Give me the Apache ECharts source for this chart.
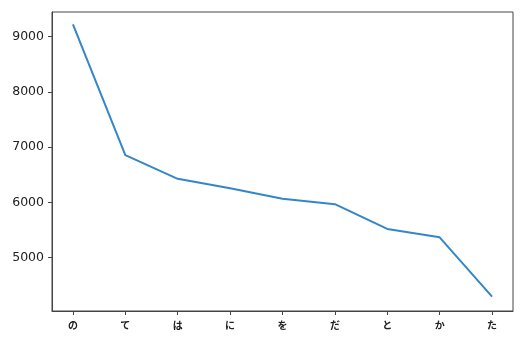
<!DOCTYPE html>
<html>
<head>
<meta charset="utf-8">
<script src="https://cdn.jsdelivr.net/npm/echarts@6/dist/echarts.min.js"></script>
<style>
html,body{margin:0;padding:0;background:#fff;}
#chart{width:529px;height:349px;}
</style>
</head>
<body>
<div id="chart"></div>
<script>
var categories = ['の', 'て', 'は', 'に', 'を', 'だ', 'と', 'か', 'た'];
var counts = [9224, 6855, 6428, 6255, 6067, 5969, 5520, 5369, 4294];
var yTicks = [5000, 6000, 7000, 8000, 9000];

var xIdx = categories.map(function (c, i) { return i; });
var seriesData = counts.map(function (v, i) { return [i, v]; });

var chart = echarts.init(document.getElementById('chart'), null, {renderer: 'canvas'});
chart.setOption({
  animation: false,
  backgroundColor: '#ffffff',
  grid: {
    left: 52, right: 16, top: 12, bottom: 38,
    show: true, borderColor: '#444', borderWidth: 1, backgroundColor: 'transparent'
  },
  xAxis: {
    type: 'value',
    min: -0.4, max: categories.length - 1 + 0.4,
    splitLine: {show: false},
    axisLine: {show: true, onZero: false, lineStyle: {color: '#444', width: 1}},
    axisTick: {show: true, length: 4, lineStyle: {color: '#444'}, customValues: xIdx},
    axisLabel: {
      customValues: xIdx,
      margin: 9,
      fontFamily: 'Noto Sans CJK JP',
      fontSize: 10,
      fontWeight: 'bold',
      color: '#222',
      formatter: function (v) { return categories[Math.round(v)]; }
    }
  },
  yAxis: {
    type: 'value',
    min: 4035, max: 9447,
    splitLine: {show: false},
    axisLine: {show: true, onZero: false, lineStyle: {color: '#444', width: 1}},
    axisTick: {show: true, length: 4, lineStyle: {color: '#444'}, customValues: yTicks},
    axisLabel: {
      customValues: yTicks,
      margin: 8,
      fontFamily: 'DejaVu Sans',
      fontSize: 12.5,
      color: '#222',
      formatter: function (v) { return String(Math.round(v)); }
    }
  },
  series: [{
    type: 'line',
    data: seriesData,
    showSymbol: false,
    symbol: 'none',
    lineStyle: {color: '#3586c8', width: 2},
    itemStyle: {color: '#3586c8'}
  }]
});
</script>
</body>
</html>
